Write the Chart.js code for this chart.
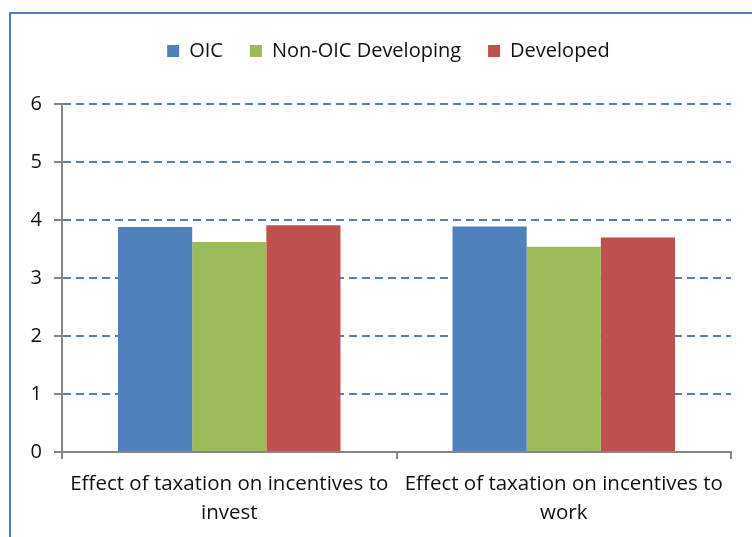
<!DOCTYPE html>
<html>
<head>
<meta charset="utf-8">
<script src="https://cdn.jsdelivr.net/npm/chart.js@4"></script>
<style>
  html, body { margin: 0; padding: 0; background: #fff; overflow: hidden; }
  #wrap { position: relative; width: 752px; height: 537px; }
  #frame { position: absolute; left: 9px; top: 12px; width: 900px; height: 700px;
           border: 2px solid #4F81BD; pointer-events: none; }
</style>
</head>
<body>
<div id="wrap">
  <canvas id="chart" width="752" height="537"></canvas>
  <div id="frame"></div>
</div>
<script>
const categories = [
  ["Effect of taxation on incentives to", "invest"],
  ["Effect of taxation on incentives to", "work"]
];
const oic = [3.88, 3.89];
const nonOic = [3.62, 3.54];
const developed = [3.91, 3.70];
const yTicks = [0, 1, 2, 3, 4, 5, 6];

Chart.defaults.font.family = "'Open Sans'";
Chart.defaults.color = "#222";

// legend sits a bit right of centre, with a wide gap under it
const legendTweak = {
  id: "legendTweak",
  beforeInit(chart) {
    const fit = chart.legend.fit;
    chart.legend.fit = function () {
      fit.call(this);
      this.height += 33;
    };
  },
  afterLayout(chart) {
    chart.legend.left += 23;
    chart.legend.right += 23;
  }
};

const ctx = document.getElementById("chart");
const chart = new Chart(ctx, {
  type: "bar",
  data: {
    labels: categories,
    datasets: [
      { label: "OIC", data: oic, backgroundColor: "#4F81BD" },
      { label: "Non-OIC Developing", data: nonOic, backgroundColor: "#9BBB59" },
      { label: "Developed", data: developed, backgroundColor: "#C0504D" }
    ]
  },
  plugins: [legendTweak],
  options: {
    responsive: false,
    animation: false,
    layout: { padding: { top: 14, right: 21, left: 0, bottom: 0 } },
    datasets: { bar: { categoryPercentage: 0.665, barPercentage: 1.0 } },
    plugins: {
      tooltip: { enabled: false },
      legend: {
        position: "top",
        labels: {
          boxWidth: 12,
          boxHeight: 12,
          padding: 27,
          font: { size: 20 },
          color: "#111"
        }
      }
    },
    scales: {
      x: {
        grid: {
          offset: true,
          drawOnChartArea: false,
          tickLength: 7,
          color: "#868686",
          lineWidth: 2
        },
        border: { color: "#868686", width: 2 },
        ticks: { font: { size: 20.5, lineHeight: 1.45 }, color: "#111", padding: 10, maxRotation: 0, autoSkip: false },
        afterFit: (s) => { s.height = 85; }
      },
      y: {
        min: 0,
        max: 6,
        afterBuildTicks: (s) => { s.ticks = yTicks.map(v => ({ value: v })); },
        grid: {
          color: (c) => c.tick && c.tick.value === 0 ? "rgba(0,0,0,0)" : "#4F81BD",
          lineWidth: 2,
          tickColor: "#868686",
          tickBorderDash: [],
          tickLength: 8
        },
        border: { color: "#868686", width: 2, dash: [8, 5] },
        ticks: { font: { size: 20 }, color: "#111", padding: 12 },
        afterFit: (s) => { s.width = 62; }
      }
    }
  }
});
</script>
</body>
</html>
